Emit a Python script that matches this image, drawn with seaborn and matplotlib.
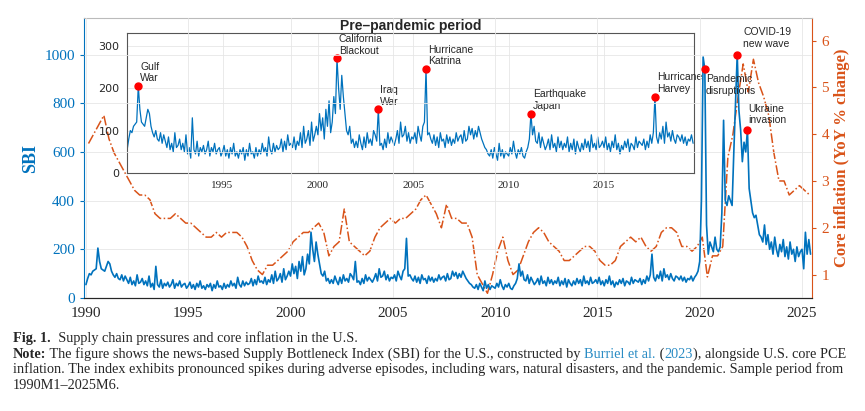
import numpy as np
import pandas as pd
import matplotlib.pyplot as plt
import seaborn as sns

# monthly SBI, 1990M1-2025M6
sbi = [
    55, 80, 100, 95, 110, 115, 120, 205, 150, 120, 115, 110,   # 1990
    130, 150, 140, 110, 95, 85, 100, 80, 75, 95, 70, 90,       # 1991
    75, 60, 85, 55, 70, 50, 95, 60, 65, 80, 55, 70,            # 1992
    50, 90, 45, 60, 35, 130, 55, 45, 75, 40, 60, 50,           # 1993
    65, 45, 55, 75, 40, 60, 50, 70, 45, 55, 60, 40,            # 1994
    50, 65, 40, 55, 35, 60, 45, 70, 40, 50, 35, 55,            # 1995
    45, 60, 30, 55, 40, 70, 45, 50, 35, 60, 40, 55,            # 1996
    45, 70, 50, 60, 40, 85, 55, 45, 70, 50, 65, 55,            # 1997
    60, 80, 50, 75, 55, 90, 65, 70, 60, 85, 55, 75,            # 1998
    65, 95, 60, 110, 70, 80, 100, 65, 120, 75, 90, 110,        # 1999
    90, 140, 100, 130, 80, 150, 110, 170, 95, 120, 180, 140,   # 2000
    270, 200, 150, 230, 180, 140, 100, 90, 110, 70, 80, 60,    # 2001
    75, 60, 90, 70, 55, 85, 60, 95, 70, 80, 65, 100,           # 2002
    90, 75, 150, 65, 70, 55, 80, 60, 95, 70, 85, 75,           # 2003
    65, 80, 100, 70, 120, 85, 90, 110, 75, 95, 70, 85,         # 2004
    80, 95, 70, 110, 90, 75, 110, 120, 245, 90, 95, 80,        # 2005
    70, 90, 65, 85, 60, 95, 75, 80, 60, 90, 70, 85,            # 2006
    65, 80, 70, 95, 75, 85, 90, 70, 100, 75, 80, 110,          # 2007
    90, 105, 80, 100, 85, 110, 95, 80, 70, 60, 55, 45,         # 2008
    40, 55, 35, 60, 45, 30, 70, 40, 55, 35, 50, 45,            # 2009
    40, 60, 45, 75, 50, 35, 55, 45, 60, 40, 35, 50,            # 2010
    60, 80, 140, 90, 110, 75, 70, 95, 60, 85, 70, 55,          # 2011
    65, 80, 55, 90, 60, 70, 50, 85, 60, 75, 55, 70,            # 2012
    60, 85, 50, 70, 55, 80, 45, 75, 60, 50, 70, 55,            # 2013
    80, 60, 75, 50, 90, 60, 70, 55, 85, 60, 65, 75,            # 2014
    60, 85, 55, 70, 50, 75, 60, 90, 55, 70, 45, 65,            # 2015
    55, 75, 60, 80, 50, 70, 65, 55, 85, 60, 75, 70,            # 2016
    65, 80, 55, 75, 60, 90, 70, 95, 180, 85, 70, 95,           # 2017
    80, 110, 70, 120, 85, 95, 75, 100, 80, 70, 90, 85,         # 2018
    75, 90, 70, 85, 65, 80, 75, 90, 70, 85, 95, 110,           # 2019
    150, 400, 990, 940, 300, 180, 230, 210, 190, 250, 200, 190,  # 2020
    210, 350, 730, 400, 380, 420, 400, 380, 600, 800, 1000, 770,  # 2021
    690, 560, 640, 600, 690, 450, 400, 350, 330, 340, 300, 260,   # 2022
    250, 230, 300, 220, 260, 200, 230, 180, 250, 200, 170, 220,   # 2023
    190, 240, 170, 210, 160, 230, 180, 200, 150, 210, 170, 190,   # 2024
    200, 120, 270, 180, 240, 180,                                 # 2025
]

# quarterly core PCE inflation, 1990Q1-2025Q2 (% YoY)
infl = [
    3.8, 4.0, 4.2, 4.4, 3.9, 3.6, 3.4, 3.2, 3.0, 2.8, 2.7, 2.7,   # 1990-92
    2.6, 2.3, 2.2, 2.2, 2.2, 2.3, 2.2, 2.1, 2.1, 2.0, 1.9, 1.8,   # 1993-95
    1.8, 1.9, 1.8, 1.9, 1.9, 1.9, 1.8, 1.6, 1.3, 1.1, 1.0, 1.2,   # 1996-98
    1.2, 1.3, 1.4, 1.5, 1.7, 1.8, 1.9, 1.9, 2.0, 2.1, 1.9, 1.4,   # 1999-01
    1.6, 1.7, 2.4, 1.7, 1.6, 1.5, 1.4, 1.5, 1.8, 2.0, 2.1, 2.2,   # 2002-04
    2.1, 2.2, 2.2, 2.3, 2.4, 2.6, 2.7, 2.5, 2.3, 2.0, 2.5, 2.2,   # 2005-07
    2.2, 2.1, 2.1, 1.8, 1.0, 0.8, 0.6, 1.0, 1.5, 1.8, 1.3, 1.0,   # 2008-10
    1.1, 1.4, 1.7, 1.9, 2.0, 1.9, 1.7, 1.6, 1.5, 1.3, 1.3, 1.4,   # 2011-13
    1.5, 1.6, 1.6, 1.5, 1.3, 1.2, 1.2, 1.3, 1.6, 1.7, 1.8, 1.7,   # 2014-16
    1.8, 1.6, 1.5, 1.6, 1.9, 2.0, 2.0, 1.9, 1.6, 1.6, 1.5, 1.6,   # 2017-19
    1.8, 0.95, 1.4, 1.4, 1.6, 3.5, 4.0, 4.8, 5.5, 4.9, 5.6, 5.1,  # 2020-22
    4.8, 4.4, 3.6, 3.0, 3.0, 2.7, 2.8, 2.9, 2.8, 2.7,             # 2023-25Q2
]

events = ["Gulf\nWar", "California\nBlackout", "Iraq\nWar", "Hurricane\nKatrina",
          "Earthquake\nJapan", "Hurricane\nHarvey"]
event_dates = ["1990-08", "2001-01", "2003-03", "2005-09", "2011-03", "2017-09"]
covid_events = ["Pandemic\ndisruptions", "COVID-19\nnew wave", "Ukraine\ninvasion"]
covid_dates = ["2020-04", "2021-11", "2022-05"]

blue = "#0072BD"
orange = "#D95319"

months = pd.period_range("1990-01", periods=len(sbi), freq="M")
df = pd.DataFrame({"t": months.year + (months.month - 1) / 12, "sbi": sbi})
quarters = pd.period_range("1990Q1", periods=len(infl), freq="Q")
dq = pd.DataFrame({"t": quarters.year + (quarters.quarter - 1) / 4 + 0.125, "infl": infl})


def pt(d):
    p = pd.Period(d, freq="M")
    return p.year + (p.month - 1) / 12, df.loc[months == p, "sbi"].iloc[0]


sns.set_style("white")
serif = ["Liberation Serif", "DejaVu Serif"]
sansf = ["Liberation Sans", "DejaVu Sans"]

fig = plt.figure(figsize=(8.65, 4.11), dpi=100)
ax = fig.add_axes([0.097, 0.275, 0.842, 0.681])
ax2 = ax.twinx()

sns.lineplot(data=dq, x="t", y="infl", ax=ax2, color=orange, lw=1.1, linestyle="-.")
sns.lineplot(data=df, x="t", y="sbi", ax=ax, color=blue, lw=1.2)
ax.set_zorder(ax2.get_zorder() + 1)
ax.patch.set_visible(False)

ax.set_xlim(1989.9, 2025.5)
ax.set_ylim(0, 1150)
ax2.set_ylim(0.5, 6.48)
ax.set_xticks(range(1990, 2026, 5))
ax.set_yticks(range(0, 1001, 200))
ax2.set_yticks(range(1, 7))
ax.grid(True, color="#e6e6e6", lw=0.6)
for a in (ax, ax2):
    a.tick_params(labelsize=11, length=3)
    for lab in a.get_xticklabels() + a.get_yticklabels():
        lab.set_family(serif)
ax.tick_params(axis="y", colors=blue)
ax2.tick_params(axis="y", colors=orange)
ax.set_xlabel("")
ax.set_ylabel("SBI", color=blue, fontsize=13, fontweight="bold", family=serif)
ax2.set_ylabel("Core inflation (YoY % change)", color=orange, fontsize=12,
               fontweight="bold", family=serif)
for s in ("left", "top", "right"):
    ax.spines[s].set_visible(False)
ax2.spines["left"].set_color(blue)
ax2.spines["right"].set_color(orange)
ax2.spines["top"].set_color("#bbbbbb")

offsets = [(0.05, -20, "left", "top"), (0.3, 25, "left", "bottom"), (0.05, 20, "left", "bottom")]
for lab, d, (dx, dy, ha, va) in zip(covid_events, covid_dates, offsets):
    x, y = pt(d)
    ax.plot(x, y, "o", color="red", ms=5, zorder=5)
    ax.text(x + dx, y + dy, lab, fontsize=7.5, family=sansf, va=va, ha=ha, zorder=6)

# inset: pre-pandemic
ins = fig.add_axes([0.147, 0.579, 0.655, 0.341])
pre = df[df["t"] < 2019.75]
sns.lineplot(data=pre, x="t", y="sbi", ax=ins, color=blue, lw=0.9)
ins.set_xlim(1990, 2019.7)
ins.set_ylim(0, 330)
ins.set_xticks(range(1995, 2020, 5))
ins.set_yticks([0, 100, 200, 300])
ins.grid(True, color="#e6e6e6", lw=0.6)
ins.set_xlabel("")
ins.set_ylabel("")
ins.tick_params(labelsize=8, length=2)
for lab in ins.get_xticklabels():
    lab.set_family(serif)
for s in ins.spines.values():
    s.set_color("#555555")
    s.set_linewidth(0.8)
ins.set_title("Pre\u2013pandemic period", fontsize=10, fontweight="bold", family=sansf, pad=2)
for lab, d in zip(events, event_dates):
    x, y = pt(d)
    ins.plot(x, y, "o", color="red", ms=5, zorder=5)
    ins.text(x + 0.1, y + 6, lab, fontsize=7.5, family=sansf, va="bottom", ha="left")

# caption, pieces placed one after another
fs = 10.3
renderer = fig.canvas.get_renderer()


def line(y, parts):
    x = 0.015
    for txt, kw in parts:
        t = fig.text(x, y, txt, fontsize=fs, family=serif, **kw)
        bb = t.get_window_extent(renderer)
        x += bb.width / fig.bbox.width


line(0.168, [("Fig. 1.", {"fontweight": "bold"}),
             ("  Supply chain pressures and core inflation in the U.S.", {})])
line(0.130, [("Note:", {"fontweight": "bold"}),
             (" The figure shows the news-based Supply Bottleneck Index (SBI) for the U.S., constructed by ", {}),
             ("Burriel et al.", {"color": "#2a8cc4"}), (" (", {}), ("2023", {"color": "#2a8cc4"}),
             ("), alongside U.S. core PCE", {})])
line(0.092, [("inflation. The index exhibits pronounced spikes during adverse episodes, including wars, "
              "natural disasters, and the pandemic. Sample period from", {})])
line(0.054, [("1990M1\u20132025M6.", {})])

fig.savefig("out.png", dpi=100)
